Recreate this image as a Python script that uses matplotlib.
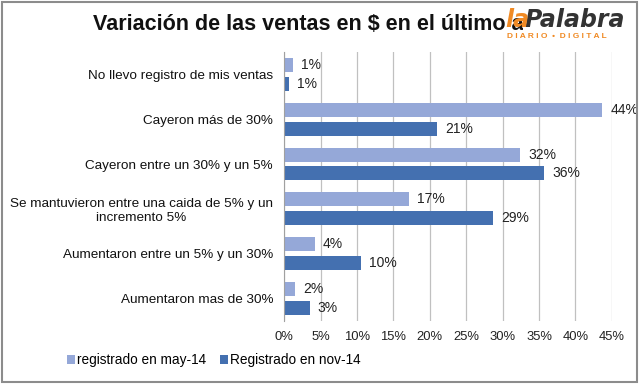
import numpy as np
import matplotlib
matplotlib.use("Agg")
import matplotlib.pyplot as plt
from matplotlib.patches import Rectangle

plt.rcParams['font.family'] = ['Liberation Sans', 'DejaVu Sans']

categories = [
    "No llevo registro de mis ventas",
    "Cayeron más de 30%",
    "Cayeron entre un 30% y un 5%",
    "Se mantuvieron entre una caida de 5% y un\nincremento 5%",
    "Aumentaron entre un 5% y un 30%",
    "Aumentaron mas de 30%",
]
may14 = [1.2, 43.7, 32.4, 17.1, 4.2, 1.5]
nov14 = [0.7, 21.0, 35.7, 28.7, 10.5, 3.5]
may14_labels = ["1%", "44%", "32%", "17%", "4%", "2%"]
nov14_labels = ["1%", "21%", "36%", "29%", "10%", "3%"]
xticks = [0, 5, 10, 15, 20, 25, 30, 35, 40, 45]

light = '#95A8D8'
dark = '#4470B0'

fig = plt.figure(figsize=(6.4, 3.84), dpi=100)
ax = fig.add_axes([0.444, 0.164, 0.512, 0.701])

y = np.arange(len(categories))
h = 0.31
off = 0.21
ax.barh(y - off, may14, height=h, color=light, label="registrado en may-14")
ax.barh(y + off, nov14, height=h, color=dark, label="Registrado en nov-14")

for yi, v, lab in zip(y, may14, may14_labels):
    ax.text(v + 1.1, yi - off, lab, va='center', ha='left', fontsize=10, color='#222222')
for yi, v, lab in zip(y, nov14, nov14_labels):
    ax.text(v + 1.1, yi + off, lab, va='center', ha='left', fontsize=10, color='#222222')

ax.set_ylim(len(categories) - 0.5, -0.5)
ax.set_xlim(0, 45)
ax.set_xticks(xticks)
ax.set_xticklabels([f"{t}%" for t in xticks], fontsize=9.4, color='#222222')
ax.set_yticks(y)
ax.set_yticklabels(categories, fontsize=9.7, color='#111111', linespacing=1.15)
ax.tick_params(axis='x', length=0, pad=7)
ax.tick_params(axis='y', length=0, pad=8)
ax.grid(axis='x', color='#C0C0C0', linewidth=0.9)
ax.set_axisbelow(True)
for s in ['top', 'right', 'bottom']:
    ax.spines[s].set_visible(False)
ax.spines['left'].set_color('#A0A0A0')
ax.spines['left'].set_zorder(3)

for t in ax.get_yticklabels():
    t.set_multialignment('center')

fig.legend(loc='center left', bbox_to_anchor=(0.104, 0.0625), ncol=2, frameon=False,
           fontsize=9.8, handlelength=0.6, handleheight=0.6, handletextpad=0.15,
           columnspacing=1.0, borderpad=0, borderaxespad=0)

fig.text(0.145, 0.922, "Variación de las ventas en $ en el último año", fontsize=15.5,
         fontweight='bold', ha='left', va='baseline', color='#111111')

# logo watermark
fig.text(0.820, 0.930, "Palabra", fontsize=17, fontweight='bold', style='italic', color='#333333',
         ha='left', va='baseline', family=['DejaVu Sans'],
         bbox=dict(facecolor='white', edgecolor='none', pad=1.5))
fig.text(0.789, 0.930, "la", fontsize=17, fontweight='bold', style='italic', color='#F08A24',
         ha='left', va='baseline', family=['DejaVu Sans'])
fig.text(0.792, 0.904, "D I A R I O  •  D I G I T A L", fontsize=6, fontweight='bold',
         color='#F08A24', ha='left', va='center', family=['Liberation Sans', 'DejaVu Sans'])

fig.add_artist(Rectangle((0.003, 0.004), 0.993, 0.992, transform=fig.transFigure,
                         fill=False, edgecolor='#8C8C8C', linewidth=1.5))

fig.savefig("out.png", dpi=100)
